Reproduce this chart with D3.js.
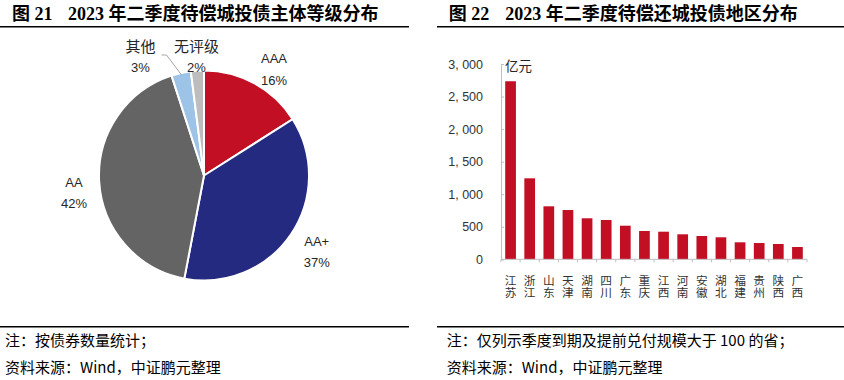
<!DOCTYPE html>
<html><head><meta charset="utf-8">
<script src="https://cdn.jsdelivr.net/npm/d3@7/dist/d3.min.js"></script>
<style>
html,body{margin:0;padding:0;background:#fff;}
svg{display:block;}
.vt{writing-mode:vertical-rl;text-orientation:upright;}
</style></head>
<body>
<svg id="c" width="844" height="380"></svg>
<script>
// ---- data ----
const pieLabels = ["AAA", "AA+", "AA", "其他", "无评级"];
const pieValues = [16, 37, 42, 3, 2];
const pieColors = ["#C30F24", "#232A80", "#646464", "#9DC3E6", "#BDBDBD"];

const regions = ["江苏","浙江","山东","天津","湖南","四川","广东","重庆","江西","河南","安徽","湖北","福建","贵州","陕西","广西"];
const regionValues = [2735, 1244, 814, 757, 630, 604, 516, 435, 424, 384, 358, 338, 261, 250, 235, 189];
const yTicks = [0, 500, 1000, 1500, 2000, 2500, 3000];

const title1a = "图 21", title1b = "2023 年二季度待偿城投债主体等级分布";
const title2a = "图 22", title2b = "2023 年二季度待偿还城投债地区分布";
const note1 = "注：按债券数量统计；";
const note2 = "注：仅列示季度到期及提前兑付规模大于 100 的省；";
const source = "资料来源：Wind，中证鹏元整理";

const svg = d3.select("#c");
const CJK = "'Noto Sans CJK SC','Liberation Serif',sans-serif";
const SERIF = "'Liberation Serif','Noto Sans CJK SC',serif";
const SANS = "'Liberation Sans',Arial,'Noto Sans CJK SC',sans-serif";

// ---- titles ----
function title(xa, xb, a, b){
  const g = svg.append("g");
  g.append("text").attr("x", xa).attr("y", 20).attr("font-size", 18).attr("font-weight", "bold")
    .attr("font-family", SERIF).attr("fill", "#000").text(a);
  g.append("text").attr("x", xb).attr("y", 20).attr("font-size", 18).attr("font-weight", "bold")
    .attr("font-family", SERIF).attr("fill", "#000").text(b);
}
title(12, 68, title1a, title1b);
title(448.7, 505.3, title2a, title2b);

// rules
[[0,409,26.7],[437,844,26.7],[0,409,326.7],[437,844,326.7]].forEach(([x1,x2,y])=>{
  svg.append("line").attr("x1",x1).attr("x2",x2).attr("y1",y).attr("y2",y)
    .attr("stroke","#000").attr("stroke-width",1.4);
});

// ---- notes ----
function note(x, y, t){
  svg.append("text").attr("x", x).attr("y", y).attr("font-size", 15)
    .attr("font-family", CJK).attr("fill", "#000").attr("dominant-baseline","central").text(t);
}
note(5, 339, note1); note(5, 366, source);
note(446.7, 339, note2); note(446.7, 366, source);

// ---- pie ----
const cx = 204, cy = 175.5, R = 105;
const pie = d3.pie().sort(null).value(d => d)(pieValues);
const arc = d3.arc().innerRadius(0).outerRadius(R);
const pg = svg.append("g").attr("transform", `translate(${cx},${cy})`);
pg.selectAll("path").data(pie).join("path")
  .attr("d", arc).attr("fill", (d,i) => pieColors[i])
  .attr("stroke", "#fff").attr("stroke-width", 2);

const labelPos = [[274,58,80],[316.7,241,262],[74,182,203.5],[140.5,45,67],[196.5,45,67]];
pieLabels.forEach((l,i)=>{
  const [x,y1,y2] = labelPos[i];
  const isCjk = i >= 3;
  svg.append("text").attr("x",x).attr("y",y1).attr("text-anchor","middle").attr("dominant-baseline","central")
    .attr("font-size", isCjk ? 15 : 13).attr("font-family", isCjk ? CJK : SANS).attr("fill","#262626").text(l);
  svg.append("text").attr("x",x).attr("y",y2).attr("text-anchor","middle").attr("dominant-baseline","central")
    .attr("font-size",13).attr("font-family",SANS).attr("fill","#262626").text(pieValues[i] + "%");
});
// leader line for 其他
(function(){
  const d = pie[3];
  const mid = (d.startAngle + d.endAngle)/2;
  const px = cx + Math.sin(mid)*(R-2), py = cy - Math.cos(mid)*(R-2);
  svg.append("polyline").attr("points", `161.5,55 166.5,55 ${px},${py}`)
    .attr("fill","none").attr("stroke","#A6A6A6").attr("stroke-width",1);
})();

// ---- bar chart ----
const x = d3.scaleBand().domain(regions).range([501, 807]).paddingInner(0.44).paddingOuter(0.22);
const y = d3.scaleLinear().domain([0, 3000]).range([259.3, 64]);

const yAxis = d3.axisLeft(y).tickValues(yTicks).tickSize(-3).tickPadding(18)
  .tickFormat(d => d3.format(",")(d).replace(",", ", "));
const ya = svg.append("g").attr("transform", "translate(501,0)").call(yAxis);
ya.select(".domain").attr("stroke", "#BFBFBF");
ya.selectAll(".tick line").attr("stroke", "#BFBFBF");
ya.selectAll("text").attr("font-size", 12.5).attr("font-family", SANS).attr("fill", "#333");

svg.append("g").selectAll("rect").data(regions).join("rect")
  .attr("x", d => x(d)).attr("width", x.bandwidth())
  .attr("y", (d,i) => y(regionValues[i])).attr("height", (d,i) => y(0) - y(regionValues[i]))
  .attr("fill", "#C30F24");

// x axis line + boundary ticks
const xa = svg.append("g");
xa.append("line").attr("x1", 501).attr("x2", 807).attr("y1", y(0)).attr("y2", y(0)).attr("stroke", "#BFBFBF");
const bounds = regions.map(r => x(r) - x.step()*x.paddingInner()/2).concat([807]);
xa.selectAll("line.t").data(bounds).join("line").attr("class","t")
  .attr("x1", d => d).attr("x2", d => d).attr("y1", y(0)).attr("y2", y(0) + 3).attr("stroke", "#BFBFBF");

// category labels, vertical writing (one text element per category)
svg.append("g").selectAll("text").data(regions).join("text")
  .attr("class", "vt")
  .attr("x", d => x(d) + x.bandwidth()/2).attr("y", 275)
  .attr("font-size", 11.7).attr("font-family", CJK).attr("fill", "#333")
  .text(d => d);

// unit
svg.append("text").attr("x", 505).attr("y", 65).attr("dominant-baseline","central")
  .attr("font-size", 13.5).attr("font-family", CJK).attr("fill", "#262626").text("亿元");
</script>
</body></html>
